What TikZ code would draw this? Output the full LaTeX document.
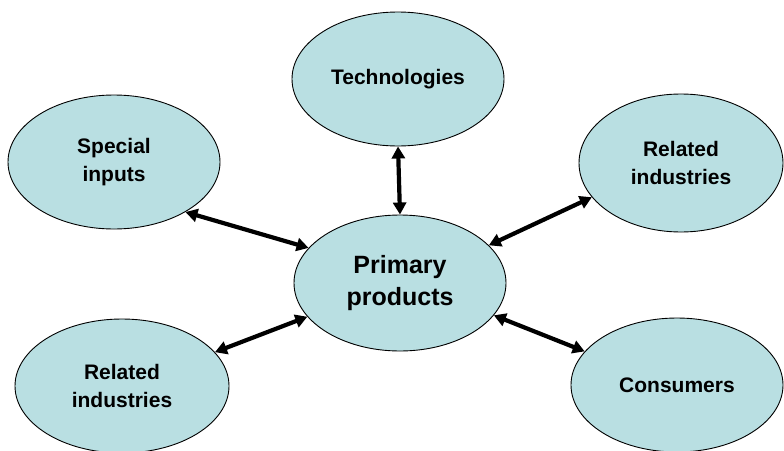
\documentclass[tikz,border=0pt]{standalone}
\usepackage{fontspec}
\setmainfont{Liberation Sans}
\usetikzlibrary{arrows.meta,shapes.geometric}
\definecolor{cellblue}{RGB}{185,223,226}
\begin{document}
\begin{tikzpicture}[x=1pt,y=-1pt,
  bubble/.style={ellipse,draw=black,line width=0.9pt,fill=cellblue,
    minimum width=212pt,minimum height=134pt,inner sep=0pt,
    align=center,font=\fontsize{21}{28}\selectfont\bfseries},
  bigbubble/.style={bubble,font=\fontsize{25}{32}\selectfont\bfseries},
  link/.style={line width=4.2pt,{Triangle[length=12pt,width=13pt]}-{Triangle[length=12pt,width=13pt]}}]
\useasboundingbox[fill=white] (0,0) rectangle (784,450);
\node[bubble] (tech) at (398,79) {Technologies};
\node[bubble] (spec) at (114,162) {Special\\inputs};
\node[bubble,minimum width=204pt,minimum height=138pt] (reltr) at (681,163) {Related\\industries};
\node[bigbubble,minimum height=136pt] (prim) at (400,283) {Primary\\products};
\node[bubble,minimum width=214pt] (relbl) at (122,386) {Related\\industries};
\node[bubble] (cons) at (677,385) {Consumers};
\draw[link] (tech.south) -- (prim.north);
\draw[link] (spec.-35) -- (prim.159);
\draw[link] (reltr.-159) -- (prim.23);
\draw[link] (relbl.20) -- (prim.200);
\draw[link] (prim.-19.5) -- (cons.160);
\end{tikzpicture}
\end{document}
